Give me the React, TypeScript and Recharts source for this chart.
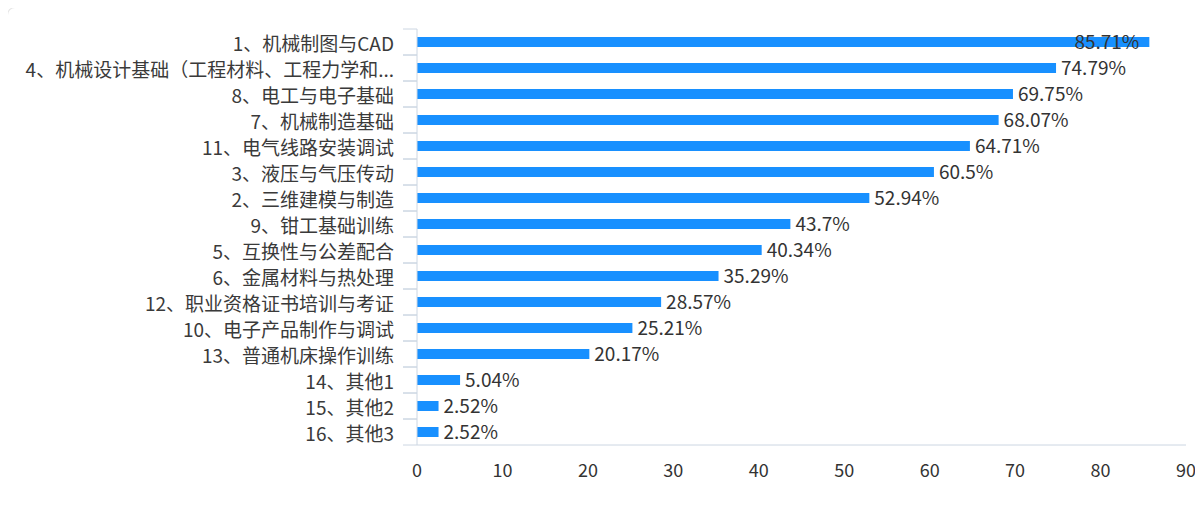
import React from "react";
import { BarChart, Bar, XAxis, YAxis, LabelList } from "recharts";

const categories = [
  "1、机械制图与CAD",
  "4、机械设计基础（工程材料、工程力学和...",
  "8、电工与电子基础",
  "7、机械制造基础",
  "11、电气线路安装调试",
  "3、液压与气压传动",
  "2、三维建模与制造",
  "9、钳工基础训练",
  "5、互换性与公差配合",
  "6、金属材料与热处理",
  "12、职业资格证书培训与考证",
  "10、电子产品制作与调试",
  "13、普通机床操作训练",
  "14、其他1",
  "15、其他2",
  "16、其他3",
];

const values = [85.71, 74.79, 69.75, 68.07, 64.71, 60.5, 52.94, 43.7, 40.34, 35.29, 28.57, 25.21, 20.17, 5.04, 2.52, 2.52];

const xTicks = [0, 10, 20, 30, 40, 50, 60, 70, 80, 90];

const data = categories.map((name, i) => ({ name, value: values[i] }));

const FONT = "'Noto Sans CJK SC', 'Noto Sans', sans-serif";
const CHART_W = 1194;
const CHART_H = 500;
const Y_W = 409;
const M_TOP = 21;
const X_H = 30;
const M_BOTTOM = 33;
const M_RIGHT = 16;
const PLOT_H = CHART_H - M_TOP - X_H - M_BOTTOM;
const TICK_SIZE = 14;
const TICK_MARGIN = 9;
const AXIS_COLOR = "#ccd6e2";

const YTick = (props: any) => {
  const { x, y, payload } = props;
  const half = PLOT_H / categories.length / 2;
  const ax = x + TICK_MARGIN;
  return (
    <g>
      <line x1={ax} x2={ax + TICK_SIZE} y1={y - half} y2={y - half} stroke={AXIS_COLOR} strokeWidth={1} />
      <line x1={ax} x2={ax + TICK_SIZE} y1={y + half} y2={y + half} stroke={AXIS_COLOR} strokeWidth={1} />
      <text x={x} y={y} textAnchor="end" dominantBaseline="central" fontSize={19} fill="#3a3a3a" fontFamily={FONT}>
        {payload.value}
      </text>
    </g>
  );
};

const ValueLabel = (props: any) => {
  const { x, y, width, height, value } = props;
  const text = `${value}%`;
  const estW = text.length * 11.5;
  const end = x + width;
  const limit = CHART_W - 15;
  let tx = end + 5;
  let anchor: "start" | "end" = "start";
  if (tx + estW > limit) {
    tx = end - 10;
    anchor = "end";
  }
  return (
    <text x={tx} y={y + height / 2 - 2} textAnchor={anchor} dominantBaseline="central" fontSize={19} fill="#333" fontFamily={FONT}>
      {text}
    </text>
  );
};

export default function App() {
  return (
    <div
      style={{
        marginLeft: -1,
        marginTop: -1,
        width: 1194,
        height: 492,
        borderTop: "1px solid #e6e6e6",
        borderLeft: "1px solid #e6e6e6",
        borderTopLeftRadius: 8,
        background: "#fff",
        overflow: "hidden",
      }}
    >
      <BarChart
        width={CHART_W}
        height={CHART_H}
        data={data}
        layout="vertical"
        margin={{ top: M_TOP, right: M_RIGHT, bottom: M_BOTTOM, left: 0 }}
        style={{ fontFamily: FONT }}
      >
        <XAxis
          type="number"
          domain={[0, 90]}
          ticks={xTicks}
          height={X_H}
          axisLine={{ stroke: AXIS_COLOR }}
          tickLine={false}
          tickSize={10}
          tickMargin={9}
          tick={{ fontSize: 18, fill: "#333", fontFamily: FONT }}
          interval={0}
        />
        <YAxis
          type="category"
          dataKey="name"
          width={Y_W}
          axisLine={{ stroke: AXIS_COLOR }}
          tickLine={false}
          tickSize={TICK_SIZE}
          tickMargin={TICK_MARGIN}
          tick={<YTick />}
          interval={0}
        />
        <Bar dataKey="value" fill="#1890ff" barSize={10} isAnimationActive={false}>
          <LabelList dataKey="value" content={<ValueLabel />} />
        </Bar>
      </BarChart>
    </div>
  );
}
